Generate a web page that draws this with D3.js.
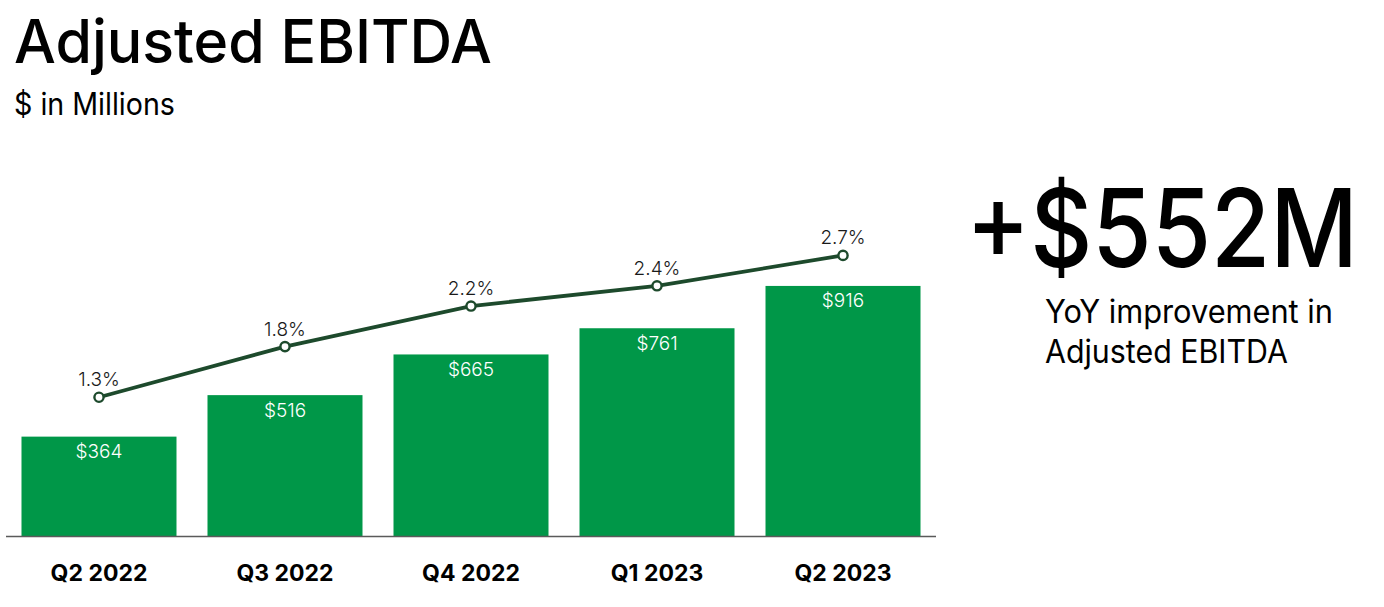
<!DOCTYPE html>
<html><head><meta charset="utf-8">
<script src="https://cdn.jsdelivr.net/npm/d3@7"></script>
<style>html,body{margin:0;padding:0;background:#fff;}svg{display:block;font-family:Inter,"Noto Sans",sans-serif;}</style>
</head><body>
<script>
const categories = ["Q2 2022","Q3 2022","Q4 2022","Q1 2023","Q2 2023"];
const ebitda = [364, 516, 665, 761, 916];
const margin = [1.3, 1.8, 2.2, 2.4, 2.7];
const ebitdaLabels = ["$364","$516","$665","$761","$916"];
const marginLabels = ["1.3%","1.8%","2.2%","2.4%","2.7%"];

const W = 1384, H = 607;
const svg = d3.select("body").append("svg").attr("width", W).attr("height", H);

const x = d3.scaleBand().domain(categories).range([6, 936]).paddingInner(0.1667).paddingOuter(0.0833);
const y = d3.scaleLinear().domain([0, 1000]).range([536, 263]);
const y2 = d3.scaleLinear().domain([0, 3]).range([529, 225]);

// helper: place text and horizontally fit it to a target width via scale
function fitText(str, px, py, size, weight, width) {
  const t = svg.append("text").attr("font-size", size).attr("font-weight", weight)
    .attr("fill", "#000").text(str);
  const w = t.node().getComputedTextLength();
  t.attr("transform", `translate(${px},${py}) scale(${width / w},1)`);
  return t;
}

// Title
fitText("Adjusted EBITDA", 14, 63, 60, 500, 478);
fitText("$ in Millions", 14, 115, 31, 400, 161);

// Bars
svg.selectAll("rect.bar").data(ebitda).join("rect").attr("class", "bar")
  .attr("x", (d, i) => x(categories[i])).attr("width", x.bandwidth())
  .attr("y", d => y(d)).attr("height", d => y(0) - y(d)).attr("fill", "#009748");

// Axis baseline
svg.append("line").attr("x1", 6).attr("x2", 936).attr("y1", 536.5).attr("y2", 536.5)
  .attr("stroke", "#5a5a5a").attr("stroke-width", 1.5);

// Bar labels
svg.selectAll("text.blab").data(ebitda).join("text").attr("class", "blab")
  .attr("x", (d, i) => x(categories[i]) + x.bandwidth() / 2).attr("y", d => y(d) + 21.5)
  .attr("text-anchor", "middle").attr("font-size", 19).attr("font-weight", 300).attr("fill", "#fff")
  .text((d, i) => ebitdaLabels[i]);

// X axis labels
const xAxis = d3.axisBottom(x).tickSize(0).tickPadding(0);
const gx = svg.append("g").attr("transform", "translate(0,536)").call(xAxis);
gx.select(".domain").remove();
gx.selectAll("text").attr("font-size", 23).attr("font-weight", 700).attr("fill", "#000")
  .attr("font-family", "Inter,'Noto Sans',sans-serif").attr("dy", 0).attr("y", 45);

// Line
const line = d3.line().x((d, i) => x(categories[i]) + x.bandwidth() / 2).y(d => y2(d));
svg.append("path").datum(margin).attr("d", line).attr("fill", "none")
  .attr("stroke", "#1d4a2c").attr("stroke-width", 3.8);
svg.selectAll("circle.pt").data(margin).join("circle").attr("class", "pt")
  .attr("cx", (d, i) => x(categories[i]) + x.bandwidth() / 2).attr("cy", d => y2(d))
  .attr("r", 4.6).attr("fill", "#fff").attr("stroke", "#1d4a2c").attr("stroke-width", 2.4);
svg.selectAll("text.plab").data(margin).join("text").attr("class", "plab")
  .attr("x", (d, i) => x(categories[i]) + x.bandwidth() / 2).attr("y", d => y2(d) - 11)
  .attr("text-anchor", "middle").attr("font-size", 19).attr("font-weight", 300).attr("fill", "#1a1a1a")
  .text((d, i) => marginLabels[i]);

// Callout
fitText("+$552M", 966, 267, 108, 500, 392);
fitText("YoY improvement in", 1045, 323, 32, 400, 288);
fitText("Adjusted EBITDA", 1045, 363, 32, 400, 243);
</script>
</body></html>
